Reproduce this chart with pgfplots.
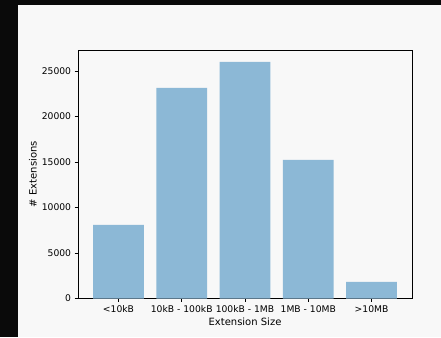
\documentclass[border=0pt]{standalone}
\usepackage{pgfplots}
\pgfplotsset{compat=1.18}
\usepackage{fontspec}
\setmainfont{DejaVu Sans}
\definecolor{barblue}{HTML}{8CB8D6}
\definecolor{figbg}{HTML}{F8F8F8}
\definecolor{edgedark}{HTML}{0A0A0A}

\begin{document}
\begin{tikzpicture}[x=1pt,y=1pt]
  % page frame: dark strip on the left and top, light figure face
  \fill[edgedark] (-78,-38.5) rectangle (363,298.5);
  \fill[figbg] (-60,-38.5) rectangle (363,293.5);
  \useasboundingbox (-78,-38.5) rectangle (363,298.5);
  \begin{axis}[
    at={(0,0)}, anchor=south west,
    scale only axis, width=334pt, height=248.5pt,
    xmin=-0.64, xmax=4.64, ymin=0, ymax=27300,
    ybar, bar width=0.8,
    xtick={0,1,2,3,4},
    xticklabels={<10kB, 10kB - 100kB, 100kB - 1MB, 1MB - 10MB, >10MB},
    ytick={0,5000,10000,15000,20000,25000},
    scaled y ticks=false,
    /pgf/number format/assume math mode=true,
    yticklabel style={/pgf/number format/fixed, /pgf/number format/1000 sep={}},
    tick label style={font=\fontsize{9.2}{11}\selectfont},
    label style={font=\fontsize{9.2}{11}\selectfont},
    tick align=outside, tick pos=left,
    major tick length=3.4pt,
    axis line style={black, line width=0.55pt},
    tick style={black, line width=0.55pt},
    xlabel={Extension Size},
    ylabel={\# Extensions},
    every axis x label/.style={at={(axis description cs:0.5,-0.0946)}, anchor=center},
    every axis y label/.style={at={(axis description cs:-0.1347,0.5)}, rotate=90, anchor=center},
  ]
    \addplot[fill=barblue, draw=none] coordinates {
      (0,8080) (1,23130) (2,26000) (3,15220) (4,1820)
    };
  \end{axis}
\end{tikzpicture}
\end{document}
